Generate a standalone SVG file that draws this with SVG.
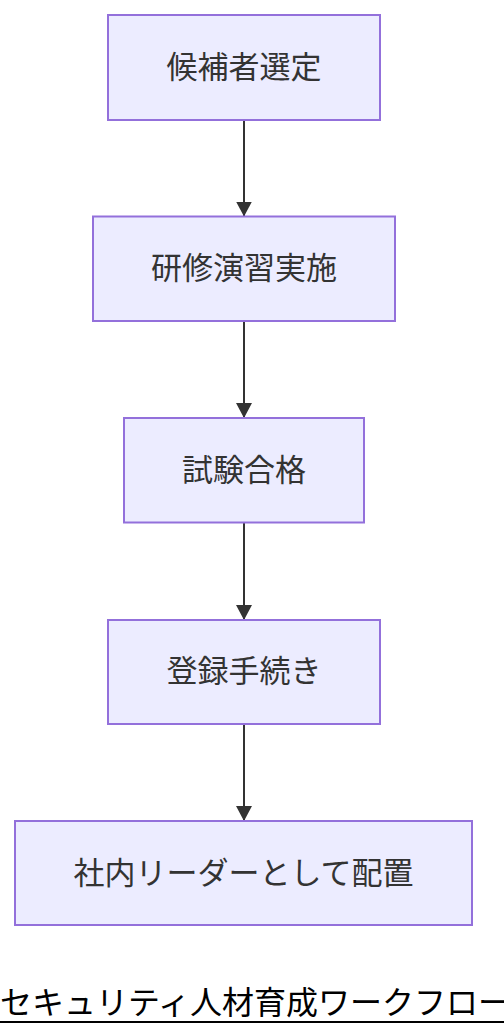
<svg xmlns="http://www.w3.org/2000/svg" width="504" height="1036" viewBox="0 0 504 1036">
<style>
.node rect{fill:#ECECFF;stroke:#9370DB;stroke-width:2}
.node text{font-family:"Noto Sans CJK JP","Noto Sans",sans-serif;font-size:31px;fill:#333333;text-anchor:middle;dominant-baseline:central}
.edge{stroke:#333333;stroke-width:2;fill:none;marker-end:url(#arrow)}
.title{font-family:"Noto Sans CJK JP","Noto Sans",sans-serif;font-size:32px;fill:#000000}
</style>
<defs>
<marker id="arrow" viewBox="0 0 15 16" refX="15" refY="8" markerWidth="15" markerHeight="16" markerUnits="userSpaceOnUse" orient="auto">
<path d="M0,0 L15,8 L0,16 z" fill="#333333"/>
</marker>
</defs>
<rect width="504" height="1036" fill="#ffffff"/>
<g id="connectors">
<path class="edge" d="M244,120.5 L244,216.5"/>
<path class="edge" d="M244,321 L244,418"/>
<path class="edge" d="M244,522.5 L244,620"/>
<path class="edge" d="M244,724 L244,821"/>
</g>
<g id="node1" class="node">
<rect x="108" y="15" width="272" height="105"/>
<text x="244" y="64.5">候補者選定</text>
</g>
<g id="node2" class="node">
<rect x="93" y="216.5" width="302" height="104.5"/>
<text x="244" y="265.5">研修演習実施</text>
</g>
<g id="node3" class="node">
<rect x="124" y="418" width="240" height="104.5"/>
<text x="244" y="467">試験合格</text>
</g>
<g id="node4" class="node">
<rect x="108" y="620" width="272" height="104"/>
<text x="244" y="668.5">登録手続き</text>
</g>
<g id="node5" class="node">
<rect x="15" y="821" width="457" height="104"/>
<text x="243.5" y="870">社内リーダーとして配置</text>
</g>
<g id="title">
<text class="title" x="0" y="1014">セキュリティ人材育成ワークフロー</text>
<line x1="0" y1="1022" x2="504" y2="1022" stroke="#000000" stroke-width="2"/>
</g>
</svg>
